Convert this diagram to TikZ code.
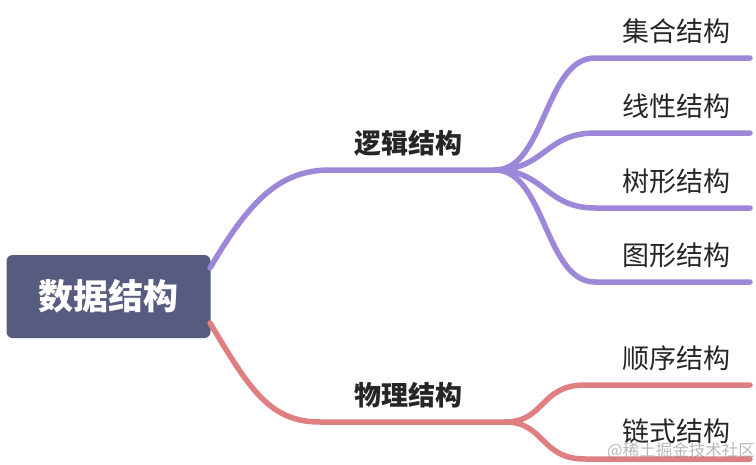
\documentclass[tikz,border=0pt]{standalone}
\usepackage{fontspec}
\setmainfont{Noto Sans CJK SC}
\usetikzlibrary{positioning}

\definecolor{rootblue}{HTML}{565C80}
\definecolor{logicpurple}{HTML}{9C87D8}
\definecolor{physred}{HTML}{E07F82}
\definecolor{labelgray}{HTML}{262626}

\tikzset{
    rootbox/.style={fill=rootblue, rounded corners=6pt, minimum width=204pt,
        minimum height=83pt, text=white, font=\fontsize{35}{35}\selectfont\bfseries},
    branchlabel/.style={text=labelgray, inner sep=1pt, font=\fontsize{27}{27}\selectfont\bfseries},
    leaflabel/.style={text=labelgray, inner sep=1pt, font=\fontsize{27}{27}\selectfont},
    mindline/.style={line width=5.5pt, line cap=round}
}

\begin{document}
\begin{tikzpicture}[x=1pt, y=-1pt]
        \useasboundingbox (0,0) rectangle (756,464);

        % koren
        \node[rootbox] (root) at (108.5,296.5) {数据结构};
        \coordinate (root-up) at (210,268);
        \coordinate (root-down) at (210,323);

        % vetve
        \coordinate (logic-l) at (330,170);
        \coordinate (logic-r) at (495,170);
        \coordinate (phys-l) at (320,422);
        \coordinate (phys-r) at (505,422);
        \node[branchlabel] (logic) at (408,143) {逻辑结构};
        \node[branchlabel] (phys) at (408,395) {物理结构};

        % listy
        \foreach \name/\y in {set/58, linear/133, tree/208, graph/282} {
            \coordinate (\name-l) at (595,\y);
            \coordinate (\name-r) at (750,\y);
        }
        \foreach \name/\y in {seq/385, chain/459} {
            \coordinate (\name-l) at (585,\y);
            \coordinate (\name-r) at (750,\y);
        }
        \node[leaflabel] (set) at (676,31) {集合结构};
        \node[leaflabel] (linear) at (676,106) {线性结构};
        \node[leaflabel] (tree) at (676,181) {树形结构};
        \node[leaflabel] (graph) at (676,255) {图形结构};
        \node[leaflabel] (seq) at (676,358) {顺序结构};
        \node[leaflabel] (chain) at (676,431) {链式结构};

        % logicka struktura
        \draw[mindline, logicpurple] (root-up) .. controls (250,200) and (280,170) .. (logic-l) -- (logic-r);
        \foreach \name in {set, linear, tree, graph}
            \draw[mindline, logicpurple] (logic-r) .. controls (545,170) and (545,0 |- \name-l) .. (\name-l) -- (\name-r);

        % fyzicka struktura
        \draw[mindline, physred] (root-down) .. controls (250,390) and (270,422) .. (phys-l) -- (phys-r);
        \foreach \name in {seq, chain}
            \draw[mindline, physred] (phys-r) .. controls (545,422) and (540,0 |- \name-l) .. (\name-l) -- (\name-r);

        % vodoznak
        \node[text=gray, opacity=0.55, inner sep=0pt, font=\fontsize{16.5}{16.5}\selectfont, anchor=east] (mark) at (755,451) {@稀土掘金技术社区};

    \end{tikzpicture}
\end{document}
